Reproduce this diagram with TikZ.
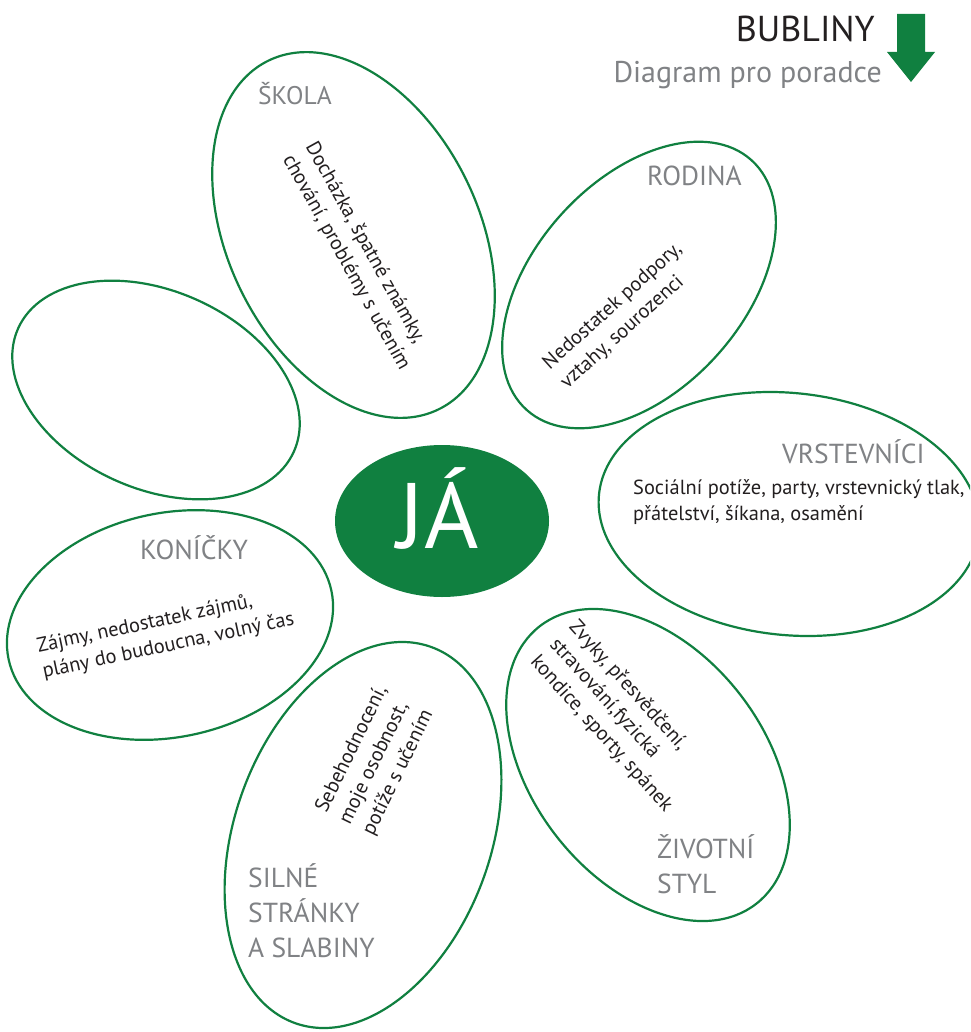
\documentclass[tikz,border=0pt]{standalone}
\usepackage{fontspec}
\setmainfont{PT Sans}
\usetikzlibrary{shapes.geometric}
\definecolor{leaf}{RGB}{16,128,64}
\definecolor{lbl}{RGB}{128,130,133}
\definecolor{ink}{RGB}{35,31,32}
\begin{document}
\begin{tikzpicture}[x=1pt,y=-1pt,
  petal/.style={draw=leaf, line width=2.2pt, ellipse, inner sep=0pt, outer sep=0pt},
  lab/.style={text=lbl, font=\fontsize{27.5}{35}\selectfont, inner sep=0pt, anchor=base west},
  body/.style={text=ink, font=\fontsize{20.4}{26}\selectfont, inner sep=0pt, align=left, anchor=west}]
\useasboundingbox (0,0) rectangle (970,1032);
\clip (0,0) rectangle (970,1032);
\fill[white] (0,0) rectangle (970,1032);

% petals
\node[petal, minimum width=388pt, minimum height=251pt, rotate=-64] (skola) at (353.5,235) {};
\node[petal, minimum width=336pt, minimum height=210pt, rotate=48] (rodina) at (639,285) {};
\node[petal, minimum width=382pt, minimum height=242pt, rotate=-6] (vrst) at (789,514) {};
\node[petal, minimum width=302pt, minimum height=198pt, rotate=-24] (prazdna) at (156,390) {};
\node[petal, minimum width=330pt, minimum height=224pt, rotate=12] (konic) at (170,625) {};
\node[petal, minimum width=400pt, minimum height=256pt, rotate=70] (silne) at (363,835) {};
\node[petal, minimum width=352pt, minimum height=232pt, rotate=-52] (zivot) at (648,765) {};

% centre
\node[ellipse, fill=leaf, minimum width=214pt, minimum height=152pt, inner sep=0pt] (ja) at (442,521) {};
\node[anchor=base, text=white, font=\fontsize{93}{93}\selectfont, inner sep=0pt] (jatext) at (438,548) {JÁ};

% labels
\node[lab, font=\fontsize{25.5}{35}\selectfont] (skolalab) at (258,105) {ŠKOLA};
\node[lab] (rodinalab) at (647,186) {RODINA};
\node[lab] (vrstlab) at (782,463) {VRSTEVNÍCI};
\node[lab] (koniclab) at (140,559) {KONÍČKY};
\node[lab] (zivotlab1) at (657,858) {ŽIVOTNÍ};
\node[lab] (zivotlab2) at (657,893) {STYL};
\node[lab] (silnelab1) at (248,887) {SILNÉ};
\node[lab] (silnelab2) at (248,922) {STRÁNKY};
\node[lab] (silnelab3) at (248,957) {A SLABINY};

% body texts
\node[body, rotate=-61] (skolatext) at (298.5,150) {Docházka, špatné známky,\\chování, problémy s učením};
\node[body, rotate=42] (rodinatext) at (555,376) {Nedostatek podpory,\\vztahy, sourozenci};
\node[body] (vrsttext) at (633,502) {Sociální potíže, party, vrstevnický tlak,\\přátelství, šíkana, osamění};
\node[body, rotate=12] (konictext) at (40,660) {Zájmy, nedostatek zájmů,\\plány do budoucna, volný čas};
\node[body, rotate=-48] (zivottext) at (553,641.5) {Zvyky, přesvědčení,\\stravování,fyzická\\kondice, sporty, spánek};
\node[body, rotate=64] (silnetext) at (345,823) {Sebehodnocení,\\moje osobnost,\\potíže s učením};

% header
\node[anchor=base east, text=ink, font=\fontsize{36}{36}\selectfont, inner sep=0pt] (title) at (875,42) {BUBLINY};
\node[anchor=base east, text=lbl, font=\fontsize{30}{30}\selectfont, inner sep=0pt] (subtitle) at (882,83) {Diagram pro poradce};
\fill[leaf] (897,14) -- (925,14) -- (925,52) -- (935,52) -- (911,82) -- (887,52) -- (897,52) -- cycle;
\end{tikzpicture}
\end{document}
